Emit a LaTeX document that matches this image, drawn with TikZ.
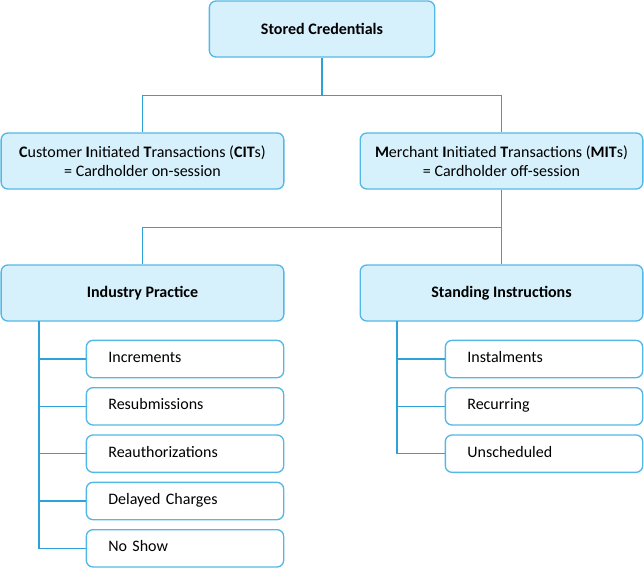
\documentclass[tikz,border=0pt]{standalone}
\usepackage{fontspec}
\setmainfont{Carlito}
\usepackage{tikz}
\usetikzlibrary{positioning}
\definecolor{boxfill}{RGB}{214,241,252}
\definecolor{boxline}{RGB}{84,184,230}
\definecolor{connline}{RGB}{44,162,216}

\begin{document}
\begin{tikzpicture}[x=0.75pt, y=-0.75pt, font=\fontsize{12}{14}\selectfont,
  main/.style = {draw=boxline, fill=boxfill, line width=1pt, rounded corners=5pt, minimum height=42pt, align=center},
  wide/.style = {main, minimum width=212pt},
  leaf/.style = {draw=boxline, fill=white, line width=1pt, rounded corners=5pt, minimum height=28pt, text height=8pt, text depth=3pt, text width=115pt, inner xsep=16.5pt, align=left},
  conn/.style = {draw=connline, line width=1pt}]
\useasboundingbox (0,0) rectangle (644,568);
\node[main, minimum width=169pt] (sc) at (322,29) {\textbf{Stored Credentials}};
\node[wide] (cit) at (142.5,161) {\textbf{C}ustomer \textbf{I}nitiated \textbf{T}ransactions (\textbf{CIT}s)\\= Cardholder on-session};
\node[wide] (mit) at (501.5,161) {\textbf{M}erchant \textbf{I}nitiated \textbf{T}ransactions (\textbf{MIT}s)\\= Cardholder off-session};
\node[wide] (ip) at (142.5,293) {\textbf{Industry Practice}};
\node[wide] (si) at (501.5,293) {\textbf{Standing Instructions}};
% industry practice
\node[leaf] (inc) at (185,359) {Increments};
\node[leaf] (res) [below=6.5pt of inc] {Resubmissions};
\node[leaf] (rea) [below=6.5pt of res] {Reauthorizations};
\node[leaf] (del) [below=6.5pt of rea] {Delayed Charges};
\node[leaf] (nos) [below=6.5pt of del] {No Show};
% standing instructions
\node[leaf] (ins) at (544,359) {Instalments};
\node[leaf] (rec) [below=6.5pt of ins] {Recurring};
\node[leaf] (uns) [below=6.5pt of rec] {Unscheduled};
\coordinate (ipt) at (39,321);
\coordinate (sit) at (397,321);
\draw[conn] (sc.south) -- ++(0,38) -| (cit.north);
\draw[conn] (sc.south) -- ++(0,38) -| (mit.north);
\draw[conn] (mit.south) -- (si.north);
\draw[conn] (mit.south) -- ++(0,38) -| (ip.north);
\draw[conn] (ipt) |- (inc.west);
\draw[conn] (ipt) |- (res.west);
\draw[conn] (ipt) |- (rea.west);
\draw[conn] (ipt) |- (del.west);
\draw[conn] (ipt) |- (nos.west);
\draw[conn] (sit) |- (ins.west);
\draw[conn] (sit) |- (rec.west);
\draw[conn] (sit) |- (uns.west);
\end{tikzpicture}
\end{document}
